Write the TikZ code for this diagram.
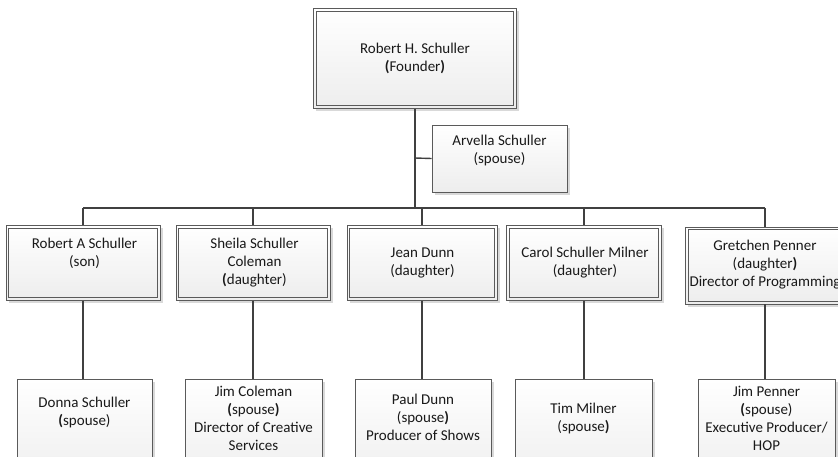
\documentclass[tikz,border=0pt]{standalone}
\usepackage{fontspec}
\setmainfont{Carlito}
\usetikzlibrary{shadows}
\definecolor{linec}{HTML}{404040}
\definecolor{boxline}{HTML}{5A5A5A}
\definecolor{fillb}{HTML}{EDEDED}
\tikzset{
  box/.style={draw=boxline, line width=0.8pt, shading=axis, top color=white, bottom color=fillb,
    drop shadow={shadow xshift=2.5pt, shadow yshift=-2.5pt, fill=black!15, opacity=1}, inner sep=0pt},
  innerline/.style={draw=boxline, line width=0.8pt},
  txt/.style={font=\fontsize{15}{18}\selectfont, align=center, inner sep=0pt, text=black!90},
  trunk/.style={draw=linec, line width=2.8pt},
  busline/.style={draw=linec, line width=1.8pt},
  dropline/.style={draw=linec, line width=1.4pt},
}
\newcommand{\bp}[1]{\textbf{#1}}
\begin{document}
\begin{tikzpicture}[x=1pt,y=-1pt]
\useasboundingbox (0,0) rectangle (838,456);
\clip (0,0) rectangle (838,456);
% top
\node[box, minimum width=203pt, minimum height=100pt] (top) at (415,58.5) {};
% spouse
\node[box, minimum width=135pt, minimum height=67pt] (arv) at (499.5,158.5) {};
% row 2
\node[box, minimum width=154pt, minimum height=75pt] (r1) at (83,263) {};
\node[box, minimum width=154pt, minimum height=75pt] (r2) at (253,263) {};
\node[box, minimum width=150pt, minimum height=75pt] (r3) at (422,263) {};
\node[box, minimum width=155pt, minimum height=75pt] (r4) at (584,263) {};
\node[box, minimum width=159pt, minimum height=77pt] (r5) at (765,265.5) {};
\foreach \n in {top,r1,r2,r3,r4,r5}{
  \draw[innerline] ([shift={(3.2pt,-3.2pt)}]\n.north west) rectangle ([shift={(-3.2pt,3.2pt)}]\n.south east);}
\node[txt] (ttop) at (415,58) {Robert H. Schuller\\\bp{(}Founder\bp{)}};
\node[txt] (tarv) at (499.5,150) {Arvella Schuller\\(spouse)};
\node[txt] (tr1) at (84.5,253.5) {Robert A Schuller\\(son)};
\node[txt] (tr2) at (254.5,263) {Sheila Schuller\\Coleman\\\bp{(}daughter)};
\node[txt] (tr3) at (422.5,262.5) {Jean Dunn\\(daughter)};
\node[txt] (tr4) at (585,262.5) {Carol Schuller Milner\\(daughter)};
\node[txt] (tr5) at (765,265) {Gretchen Penner\\(daughter\bp{)}\\Director of Programming};
% row 3
\node[box, minimum width=135pt, minimum height=110pt] (b1) at (84.5,434.5) {};
\node[box, minimum width=137pt, minimum height=110pt] (b2) at (253.5,434) {};
\node[box, minimum width=136pt, minimum height=110pt] (b3) at (423,434) {};
\node[box, minimum width=137pt, minimum height=110pt] (b4) at (583.5,434) {};
\node[box, minimum width=137pt, minimum height=110pt] (b5) at (766.5,434) {};
\node[txt] (tb1) at (84.5,412) {Donna Schuller\\\bp{(}spouse)};
\node[txt] (tb2) at (253.5,418.5) {Jim Coleman\\\bp{(}spouse\bp{)}\\Director of Creative\\Services};
\node[txt] (tb3) at (423,417.5) {Paul Dunn\\(spouse\bp{)}\\Producer of Shows};
\node[txt] (tb4) at (583.5,418.5) {Tim Milner\\(spouse\bp{)}};
\node[txt] (tb5) at (766.5,418.5) {Jim Penner\\\bp{(}spouse)\\Executive Producer/\\HOP};
% connectors
\coordinate (bus) at (415,208);
\coordinate (sp) at (415,158);
\draw[trunk] (top.south) -- (bus);
\draw[dropline] (sp) -- (arv.west);
\draw[busline] (r1.north |- bus) -- (r5.north |- bus);
\foreach \n in {r1,r2,r3,r4,r5}{\draw[dropline] (\n.north |- bus) -- (\n.north);}
\draw[dropline] (r1.south) -- (r1.south |- b1.north);
\draw[dropline] (r2.south) -- (r2.south |- b2.north);
\draw[dropline] (r3.south) -- (r3.south |- b3.north);
\draw[dropline] (r4.south) -- (r4.south |- b4.north);
\draw[dropline] (r5.south) -- (r5.south |- b5.north);
\end{tikzpicture}
\end{document}
